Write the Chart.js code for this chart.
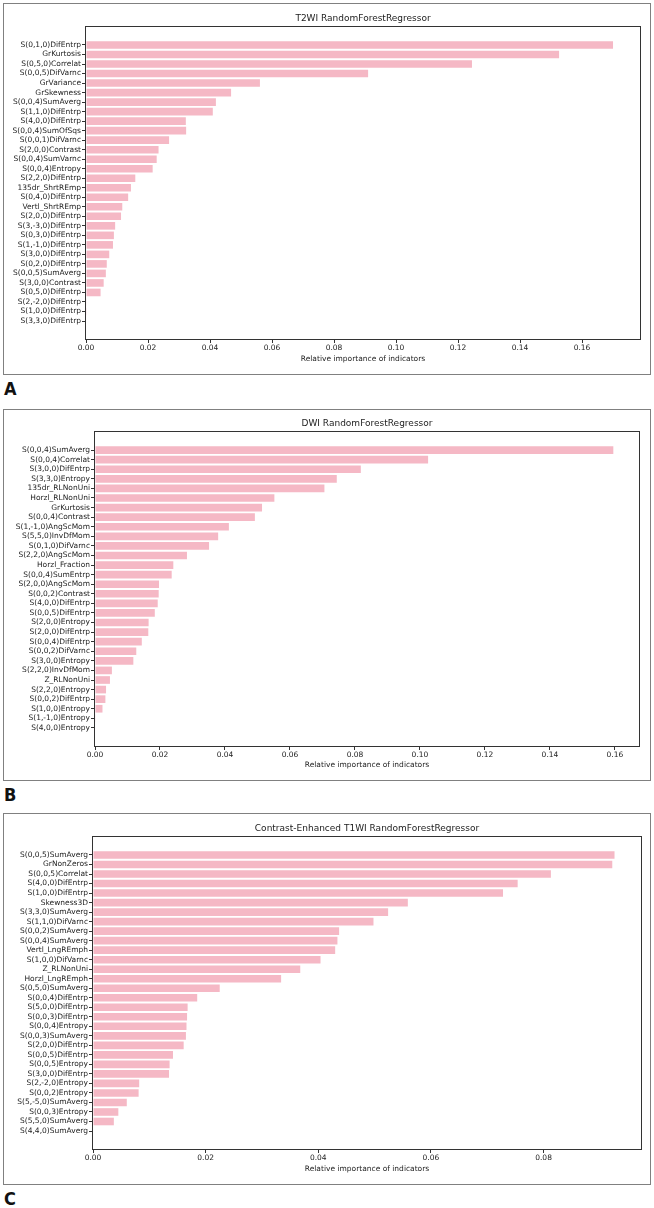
<!DOCTYPE html>
<html>
<head>
<meta charset="utf-8">
<script src="https://cdn.jsdelivr.net/npm/chart.js@4.4.1/dist/chart.umd.min.js"></script>
<style>
  body { margin: 0; background: #fff; width: 654px; height: 1208px; position: relative; overflow: hidden; }
  .panel { position: absolute; left: 3px; width: 646px; height: 370px; border: 1px solid #808080; }
  .panel canvas { position: absolute; left: 0; top: 0; }
  .letter { position: absolute; left: 4px; font: bold 18px 'Liberation Sans Narrow', 'DejaVu Sans Condensed', sans-serif; line-height: 18px; color: #111; }
</style>
</head>
<body>
<div class="panel" style="top:3px"><canvas id="chartA" width="646" height="370"></canvas></div>
<div class="letter" style="top:380px">A</div>
<div class="panel" style="top:409px"><canvas id="chartB" width="646" height="370"></canvas></div>
<div class="letter" style="top:786px">B</div>
<div class="panel" style="top:813px"><canvas id="chartC" width="646" height="370"></canvas></div>
<div class="letter" style="top:1190px">C</div>
<script>
// T2WI
const t2Labels = ['S(0,1,0)DifEntrp', 'GrKurtosis', 'S(0,5,0)Correlat', 'S(0,0,5)DifVarnc', 'GrVariance',
    'GrSkewness', 'S(0,0,4)SumAverg', 'S(1,1,0)DifEntrp', 'S(4,0,0)DifEntrp', 'S(0,0,4)SumOfSqs',
    'S(0,0,1)DifVarnc', 'S(2,0,0)Contrast', 'S(0,0,4)SumVarnc', 'S(0,0,4)Entropy', 'S(2,2,0)DifEntrp',
    '135dr_ShrtREmp', 'S(0,4,0)DifEntrp', 'Vertl_ShrtREmp', 'S(2,0,0)DifEntrp', 'S(3,-3,0)DifEntrp',
    'S(0,3,0)DifEntrp', 'S(1,-1,0)DifEntrp', 'S(3,0,0)DifEntrp', 'S(0,2,0)DifEntrp', 'S(0,0,5)SumAverg',
    'S(3,0,0)Contrast', 'S(0,5,0)DifEntrp', 'S(2,-2,0)DifEntrp', 'S(1,0,0)DifEntrp', 'S(3,3,0)DifEntrp'];
const t2Values = [0.1700, 0.1526, 0.1245, 0.0910, 0.0561,
    0.0468, 0.0419, 0.0409, 0.0322, 0.0323,
    0.0268, 0.0234, 0.0228, 0.0215, 0.0159,
    0.0145, 0.0136, 0.0117, 0.0113, 0.0094,
    0.0090, 0.0087, 0.0075, 0.0067, 0.0064,
    0.0057, 0.0047, 0.0002, 0.0001, 0.0000];
const t2Ticks = [0, 0.02, 0.04, 0.06, 0.08, 0.10, 0.12, 0.14, 0.16];

// DWI
const dwiLabels = ['S(0,0,4)SumAverg', 'S(0,0,4)Correlat', 'S(3,0,0)DifEntrp', 'S(3,3,0)Entropy', '135dr_RLNonUni',
    'Horzl_RLNonUni', 'GrKurtosis', 'S(0,0,4)Contrast', 'S(1,-1,0)AngScMom', 'S(5,5,0)InvDfMom',
    'S(0,1,0)DifVarnc', 'S(2,2,0)AngScMom', 'Horzl_Fraction', 'S(0,0,4)SumEntrp', 'S(2,0,0)AngScMom',
    'S(0,0,2)Contrast', 'S(4,0,0)DifEntrp', 'S(0,0,5)DifEntrp', 'S(2,0,0)Entropy', 'S(2,0,0)DifEntrp',
    'S(0,0,4)DifEntrp', 'S(0,0,2)DifVarnc', 'S(3,0,0)Entropy', 'S(2,2,0)InvDfMom', 'Z_RLNonUni',
    'S(2,2,0)Entropy', 'S(0,0,2)DifEntrp', 'S(1,0,0)Entropy', 'S(1,-1,0)Entropy', 'S(4,0,0)Entropy'];
const dwiValues = [0.1595, 0.1025, 0.0818, 0.0744, 0.0706,
    0.0552, 0.0514, 0.0492, 0.0412, 0.0379,
    0.0351, 0.0283, 0.0241, 0.0236, 0.0197,
    0.0196, 0.0193, 0.0184, 0.0165, 0.0164,
    0.0144, 0.0127, 0.0118, 0.0052, 0.0046,
    0.0034, 0.0032, 0.0023, 0.0002, 0.0000];
const dwiTicks = [0, 0.02, 0.04, 0.06, 0.08, 0.10, 0.12, 0.14, 0.16];

// Contrast-enhanced T1WI
const ceLabels = ['S(0,0,5)SumAverg', 'GrNonZeros', 'S(0,0,5)Correlat', 'S(4,0,0)DifEntrp', 'S(1,0,0)DifEntrp',
    'Skewness3D', 'S(3,3,0)SumAverg', 'S(1,1,0)DifVarnc', 'S(0,0,2)SumAverg', 'S(0,0,4)SumAverg',
    'Vertl_LngREmph', 'S(1,0,0)DifVarnc', 'Z_RLNonUni', 'Horzl_LngREmph', 'S(0,5,0)SumAverg',
    'S(0,0,4)DifEntrp', 'S(5,0,0)DifEntrp', 'S(0,0,3)DifEntrp', 'S(0,0,4)Entropy', 'S(0,0,3)SumAverg',
    'S(2,0,0)DifEntrp', 'S(0,0,5)DifEntrp', 'S(0,0,5)Entropy', 'S(3,0,0)DifEntrp', 'S(2,-2,0)Entropy',
    'S(0,0,2)Entropy', 'S(5,-5,0)SumAverg', 'S(0,0,3)Entropy', 'S(5,5,0)SumAverg', 'S(4,4,0)SumAverg'];
const ceValues = [0.0926, 0.0922, 0.0813, 0.0754, 0.0728,
    0.0559, 0.0524, 0.0498, 0.0437, 0.0434,
    0.0430, 0.0404, 0.0368, 0.0334, 0.0225,
    0.0185, 0.0168, 0.0167, 0.0166, 0.0165,
    0.0161, 0.0142, 0.0136, 0.0135, 0.0082,
    0.0081, 0.0060, 0.0045, 0.0037, 0.0000];
const ceTicks = [0, 0.02, 0.04, 0.06, 0.08];

const FONT = "'DejaVu Sans', sans-serif";
const TEXT = '#1c1c1c';
const BAR = '#f5b8c5';
const W = 646, H = 370;

// draws the 4 spines round the plot area
const axesFrame = {
    id: 'axesFrame',
    afterDatasetsDraw(chart) {
        const a = chart.chartArea;
        const ctx = chart.ctx;
        ctx.save();
        ctx.strokeStyle = '#333';
        ctx.lineWidth = 1;
        ctx.strokeRect(a.left - 0.5, a.top - 0.5, a.right - a.left + 1, a.bottom - a.top + 1);
        ctx.restore();
    }
};

function makeChart(id, title, labels, values, ticks, xMax, box) {
    const n = labels.length;
    // matplotlib style margin round the bars
    const pad = 0.4 + 0.05 * (n - 1 + 0.8);
    return new Chart(document.getElementById(id), {
        type: 'bar',
        data: {
            datasets: [{
                data: values.map((v, i) => ({ x: v, y: i })),
                backgroundColor: BAR,
                borderWidth: 0,
                barPercentage: 0.8,
                categoryPercentage: 1
            }]
        },
        options: {
            indexAxis: 'y',
            responsive: false,
            animation: false,
            layout: { padding: { left: 0, top: 0, bottom: 0, right: W - box.right } },
            plugins: {
                legend: { display: false },
                tooltip: { enabled: false },
                title: {
                    display: true,
                    text: title,
                    fullSize: false,
                    color: TEXT,
                    font: { family: FONT, size: 9, weight: 'normal' },
                    padding: { top: box.titleY - 5.4, bottom: box.top - box.titleY - 5.4 }
                }
            },
            scales: {
                x: {
                    type: 'linear',
                    min: 0,
                    max: xMax,
                    afterBuildTicks: s => { s.ticks = ticks.map(v => ({ value: v })); },
                    afterFit: s => { s.height = H - box.bottom; },
                    ticks: {
                        callback: v => v.toFixed(2),
                        autoSkip: false,
                        maxRotation: 0,
                        padding: 1,
                        color: TEXT,
                        font: { family: FONT, size: 7.5 }
                    },
                    grid: { drawOnChartArea: false, tickLength: 4, color: '#333' },
                    border: { display: false },
                    title: {
                        display: true,
                        text: 'Relative importance of indicators',
                        color: TEXT,
                        font: { family: FONT, size: 7.5 },
                        padding: { top: 0, bottom: H - box.xLabelY - 4.5 }
                    }
                },
                y: {
                    type: 'linear',
                    reverse: true,
                    offset: false,
                    min: -pad,
                    max: n - 1 + pad,
                    afterBuildTicks: s => { s.ticks = labels.map((_, i) => ({ value: i })); },
                    afterFit: s => { s.width = box.left; },
                    ticks: {
                        callback: v => labels[v],
                        autoSkip: false,
                        padding: 1,
                        color: TEXT,
                        font: { family: FONT, size: 7.5 }
                    },
                    grid: { drawOnChartArea: false, offset: false, tickLength: 4, color: '#333' },
                    border: { display: false }
                }
            }
        },
        plugins: [axesFrame]
    });
}

makeChart('chartA', 'T2WI RandomForestRegressor', t2Labels, t2Values, t2Ticks, 0.1787,
    { left: 82, right: 636, top: 23, bottom: 335, titleY: 15, xLabelY: 355 });
makeChart('chartB', 'DWI RandomForestRegressor', dwiLabels, dwiValues, dwiTicks, 0.1674,
    { left: 91, right: 635, top: 22, bottom: 336, titleY: 14, xLabelY: 355 });
makeChart('chartC', 'Contrast-Enhanced T1WI RandomForestRegressor', ceLabels, ceValues, ceTicks, 0.0973,
    { left: 89, right: 637, top: 23, bottom: 335, titleY: 15, xLabelY: 355 });
</script>
</body>
</html>
